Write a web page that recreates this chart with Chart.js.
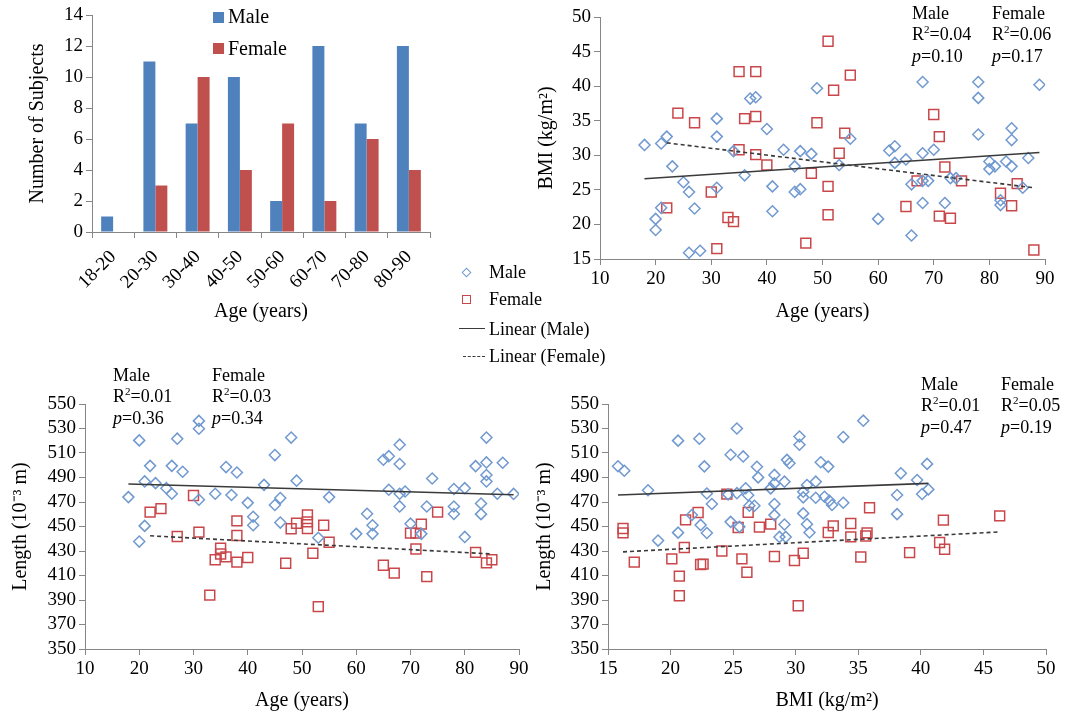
<!DOCTYPE html>
<html>
<head>
<meta charset="utf-8">
<script src="https://cdn.jsdelivr.net/npm/chart.js@4.4.1/dist/chart.umd.min.js"></script>
<style>
  body { margin: 0; background: #fff; }
  #page { position: relative; width: 1067px; height: 717px; overflow: hidden;
          font-family: "Liberation Serif", "Times New Roman", serif; color: #000; }
  canvas { position: absolute; }
  .txt { position: absolute; white-space: nowrap; }
  .note { position: absolute; font-size: 18px; line-height: 21.5px; white-space: nowrap; }
  .note sup { font-size: 11px; line-height: 0; vertical-align: 7px; }
  .swatch { position: absolute; }
</style>
</head>
<body>
<div id="page">
  <canvas id="countChart" style="left:0;top:0;width:450px;height:328px"></canvas>
  <canvas id="bmiAgeChart" style="left:450px;top:0;width:617px;height:328px"></canvas>
  <canvas id="lenAgeChart" style="left:0;top:360px;width:540px;height:357px"></canvas>
  <canvas id="lenBmiChart" style="left:520px;top:360px;width:547px;height:357px"></canvas>
  <div id="overlay"></div>
</div>
<script>
// age distribution
const ageGroups = ['18-20', '20-30', '30-40', '40-50', '50-60', '60-70', '70-80', '80-90'];
const maleCounts = [1, 11, 7, 10, 2, 12, 7, 12];
const femaleCounts = [0, 3, 10, 4, 7, 2, 6, 4];
const seriesNames = ['Male', 'Female'];

// BMI vs age, [age, BMI]
const maleAgeBmi = [[18,31.5],[21,31.7],[22,32.7],[23,28.4],[21,22.4],[20,20.8],[20,19.2],[25,26.1],[26,24.7],[26,15.9],
  [27,22.3],[28,16.2],[31,35.3],[31,32.7],[31,25.3],[34,30.6],[36,27.1],[37,38.2],[38,38.4],[40,33.8],[41,25.5],[41,21.9],
  [43,30.8],[45,28.4],[45,24.7],[46,30.6],[46,25.1],[48,30.2],[49,39.7],[53,28.6],[55,32.4],[60,20.8],[62,30.7],[63,31.3],
  [63,28.9],[65,29.4],[66,25.8],[66,18.4],[68,40.6],[68,30.3],[68,26.3],[68,23.1],[69,26.3],[70,30.8],[72,23.1],[73,26.7],
  [74,26.7],[78,40.6],[78,38.3],[78,33.0],[80,29.1],[80,28.0],[81,28.4],[82,22.8],[82,23.5],[83,29.1],[84,33.9],[84,32.2],
  [84,28.4],[86,25.3],[87,29.6],[89,40.2]];
const femaleAgeBmi = [[22,22.4],[24,36.1],[27,34.7],[30,24.7],[31,16.5],[33,21.0],[34,20.4],[35,42.1],[35,30.8],[36,35.3],
  [38,42.1],[38,35.6],[38,30.1],[40,28.6],[47,17.3],[48,27.4],[49,34.7],[51,46.5],[51,25.5],[51,21.4],[52,39.4],[53,30.3],
  [54,33.2],[55,41.6],[65,22.6],[67,26.3],[70,35.9],[71,32.7],[71,21.2],[72,28.3],[73,20.9],[75,26.3],[82,24.5],[84,22.7],
  [85,25.9],[88,16.3]];
const maleAgeBmiFit = [[18,26.6],[89,30.4]];
const femaleAgeBmiFit = [[22,31.8],[88,25.3]];

// length vs age, [age, length]
const maleAgeLen = [[18,474],[20,520.3],[20,437.7],[21,486.8],[21,450.5],[22,499.5],[23,485.4],[25,481.3],[26,499.5],[26,476.7],
  [27,521.7],[28,494.7],[31,536.2],[31,529.8],[31,471.8],[34,476.7],[36,498.5],[37,475.7],[38,494.1],[40,469.3],[41,458],
  [41,451],[43,484],[45,508.3],[45,467.5],[46,473.2],[46,453.2],[48,522.6],[49,487.4],[53,440.8],[55,474],[60,444],[62,460.4],
  [63,451],[63,444],[65,504.5],[66,507.4],[66,480],[68,516.8],[68,501],[68,476.7],[68,466.4],[69,478.6],[70,452.3],[72,444],
  [73,466.3],[74,489.2],[78,480.6],[78,466.3],[78,460.2],[80,481.3],[80,441.5],[82,499.3],[83,468.8],[83,460.1],[84,522.6],
  [84,502.3],[84,492],[84,486.8],[86,476.7],[87,502],[89,476.6]];
const femaleAgeLen = [[22,461.7],[24,464.6],[27,441.8],[30,475.3],[31,445.4],[33,394],[34,422.8],[35,432.3],[35,427.5],
  [36,425.2],[38,454.6],[38,442.6],[38,420.9],[40,424.7],[47,420],[48,448.2],[49,452.7],[51,459.5],[51,453.8],[51,448.4],
  [52,428.2],[53,384.6],[54,451],[55,437.2],[65,418.4],[67,411.9],[70,444.6],[71,444.6],[71,431.6],[72,451.9],[73,409.1],
  [75,461.7],[82,428.9],[84,420.3],[85,422.8]];
const maleAgeLenFit = [[18,484.7],[89,475.9]];
const femaleAgeLenFit = [[22,442.4],[85,427.6]];

// length vs BMI, [BMI, length]
const maleBmiLen = [[15.8,499.2],[16.3,495.5],[18.2,479.6],[19.0,438.5],[20.6,520.1],[20.6,445],[21.7,459.4],[22.3,521.6],
  [22.7,499.1],[22.4,451.3],[22.9,476.9],[22.9,444.7],[23.3,468.4],[24.6,476.2],[24.8,508.6],[24.8,453.8],[25.3,530],
  [25.3,477.2],[25.5,449.7],[25.8,507.2],[26.0,481.2],[26.2,475.5],[26.3,466.9],[26.7,466.9],[27.0,490.1],[26.9,498.8],
  [28.0,481.1],[28.3,492.1],[28.3,485.2],[28.3,468.3],[28.3,459.3],[28.7,441.5],[29.1,486.6],[29.1,451.6],[29.2,441.5],
  [29.3,504.4],[29.5,501.6],[30.3,523.5],[30.3,516.7],[30.6,478.4],[30.6,473.8],[30.6,460.7],[30.9,483.9],[30.9,451.9],
  [31.1,445.1],[31.6,473.5],[31.6,486.6],[32.0,502.5],[32.3,474.3],[32.6,498.9],[32.7,471],[32.9,467.5],[33.8,469.4],
  [33.8,523],[35.4,536.4],[38.1,475.7],[38.1,460.1],[38.4,493.4],[39.7,488],[40.1,476.5],[40.5,501.1],[40.6,480.3]];
const femaleBmiLen = [[16.2,448.4],[16.2,444.8],[17.1,420.9],[20.1,423.6],[20.7,409.5],[20.7,393.5],[21.1,432.8],[21.2,455.4],
  [22.2,461.4],[22.4,419],[22.6,419.3],[24.1,430],[24.5,476.4],[25.4,449.2],[25.7,423.6],[26.1,412.7],[26.2,461.5],
  [27.1,449.5],[28.0,451.9],[28.3,425.5],[29.9,422.2],[30.2,385.3],[30.6,428.2],[32.6,445.1],[33.0,450.5],[34.4,452.5],
  [34.4,441.5],[35.2,425.1],[35.6,442.3],[35.7,444.8],[35.9,465.3],[39.1,428.7],[41.5,436.9],[41.8,455.2],[41.9,431.4],
  [46.3,458.7]];
const maleBmiLenFit = [[15.8,475.7],[40.6,485.2]];
const femaleBmiLenFit = [[16.2,429.3],[46.3,445.6]];

// regression summary per panel: [R², p] for male then female
const bmiAgeStats = [['0.04', '0.10'], ['0.06', '0.17']];
const lenAgeStats = [['0.01', '0.36'], ['0.03', '0.34']];
const lenBmiStats = [['0.01', '0.47'], ['0.05', '0.19']];
const trendNames = ['Linear (Male)', 'Linear (Female)'];

const serif = "'Liberation Serif', 'Times New Roman', serif";
const blue = '#4F81BD', red = '#C0504D';
const axisGrey = '#868686';

Chart.defaults.animation = false;
Chart.defaults.plugins.legend.display = false;
Chart.defaults.plugins.tooltip.enabled = false;
Chart.defaults.responsive = false;
Chart.defaults.devicePixelRatio = 1;

function sizeCanvas(id) {
  const c = document.getElementById(id);
  c.width = parseInt(c.style.width);
  c.height = parseInt(c.style.height);
  return c;
}

// axis with outward tick marks and no gridlines; afterFit pins the plot area
function axis(opts) {
  const a = {
    ticks: { color: '#000', font: { family: serif, size: 19 }, padding: opts.tickPad || 3, autoSkip: false,
             stepSize: opts.step, minRotation: opts.rot || 0, maxRotation: opts.rot || 0 },
    grid: { drawOnChartArea: false, drawTicks: true, tickLength: 6, color: axisGrey },
    border: { display: true, color: axisGrey },
    title: { display: true, text: opts.title, color: '#000', font: { family: serif, size: 20 }, padding: { top: 4, bottom: 4 } },
    afterFit: s => { if (s.isHorizontal()) s.height = opts.fit; else s.width = opts.fit; }
  };
  if (opts.min !== undefined) { a.type = 'linear'; a.min = opts.min; a.max = opts.max; }
  return a;
}

function toPoints(pairs) { return pairs.map(p => ({ x: p[0], y: p[1] })); }

const countX = axis({ title: 'Age (years)', fit: 96, rot: 45, tickPad: 8 });
countX.grid.offset = true;
const countY = axis({ title: 'Number of Subjects', fit: 70, step: 2 });
countY.min = 0;
countY.max = 14;

new Chart(sizeCanvas('countChart'), {
  type: 'bar',
  data: {
    labels: ageGroups,
    datasets: [
      { label: seriesNames[0], data: maleCounts, backgroundColor: blue, categoryPercentage: 0.567, barPercentage: 1 },
      { label: seriesNames[1], data: femaleCounts, backgroundColor: red, categoryPercentage: 0.567, barPercentage: 1 }
    ]
  },
  options: {
    layout: { padding: { left: 22, top: 15, right: 20, bottom: 0 } },
    scales: { x: countX, y: countY }
  }
});

function scatterChart(id, male, female, maleFit, femaleFit, xs, ys, pad) {
  return new Chart(sizeCanvas(id), {
    type: 'scatter',
    data: {
      datasets: [
        { label: trendNames[0], type: 'line', data: toPoints(maleFit), borderColor: '#3a3a3a', borderWidth: 1.6, pointRadius: 0 },
        { label: trendNames[1], type: 'line', data: toPoints(femaleFit), borderColor: '#3a3a3a', borderWidth: 1.6,
          borderDash: [4, 3], pointRadius: 0 },
        { label: seriesNames[0], data: toPoints(male), pointStyle: 'rectRot', radius: 5.5, borderWidth: 1.5,
          borderColor: '#7099D0', backgroundColor: 'rgba(0,0,0,0)' },
        { label: seriesNames[1], data: toPoints(female), pointStyle: 'rect', radius: 7, borderWidth: 1.5,
          borderColor: '#C9474A', backgroundColor: 'rgba(0,0,0,0)' }
      ]
    },
    options: {
      layout: { padding: pad },
      scales: { x: axis(xs), y: axis(ys) }
    }
  });
}

scatterChart('bmiAgeChart', maleAgeBmi, femaleAgeBmi, maleAgeBmiFit, femaleAgeBmiFit,
  { title: 'Age (years)', min: 10, max: 90, step: 10, fit: 69 },
  { title: 'BMI (kg/m²)', min: 15, max: 50, step: 5, fit: 69 },
  { left: 81, top: 17, right: 22, bottom: 0 });

scatterChart('lenAgeChart', maleAgeLen, femaleAgeLen, maleAgeLenFit, femaleAgeLenFit,
  { title: 'Age (years)', min: 10, max: 90, step: 10, fit: 68 },
  { title: 'Length (10⁻³ m)', min: 350, max: 550, step: 20, fit: 80 },
  { left: 5, top: 44, right: 21, bottom: 0 });

scatterChart('lenBmiChart', maleBmiLen, femaleBmiLen, maleBmiLenFit, femaleBmiLenFit,
  { title: 'BMI (kg/m²)', min: 15, max: 50, step: 5, fit: 68 },
  { title: 'Length (10⁻³ m)', min: 350, max: 550, step: 20, fit: 79 },
  { left: 9, top: 44, right: 21, bottom: 0 });

// legends and regression notes
const overlay = document.getElementById('overlay');
function put(html, cls, style) {
  const d = document.createElement('div');
  d.className = cls;
  d.style.cssText = style;
  d.innerHTML = html;
  overlay.appendChild(d);
}

// bar chart legend
put('', 'swatch', `left:213px;top:12px;width:11px;height:11px;background:${blue}`);
put(seriesNames[0], 'txt', 'left:228px;top:5px;font-size:20px;line-height:23px');
put('', 'swatch', `left:213px;top:43px;width:11px;height:11px;background:${red}`);
put(seriesNames[1], 'txt', 'left:228px;top:37px;font-size:20px;line-height:23px');

// shared scatter legend
put('', 'swatch', 'left:462.5px;top:268.5px;width:5px;height:5px;border:1.5px solid #7099D0;transform:rotate(45deg)');
put(seriesNames[0], 'txt', 'left:489px;top:262px;font-size:18px;line-height:21px');
put('', 'swatch', 'left:461.5px;top:295px;width:7px;height:7px;border:1.5px solid #C9474A');
put(seriesNames[1], 'txt', 'left:489px;top:289px;font-size:18px;line-height:21px');
put('', 'swatch', 'left:459px;top:328px;width:26px;border-top:1.6px solid #3a3a3a');
put(trendNames[0], 'txt', 'left:489px;top:319px;font-size:18px;line-height:21px');
put('', 'swatch', 'left:463px;top:356px;width:22px;border-top:1.6px dashed #3a3a3a');
put(trendNames[1], 'txt', 'left:489px;top:346px;font-size:18px;line-height:21px');

function notes(stats, xMale, xFemale, top) {
  [xMale, xFemale].forEach((x, i) => {
    put(`${seriesNames[i]}<br>R<sup>2</sup>=${stats[i][0]}<br><i>p</i>=${stats[i][1]}`, 'note', `left:${x}px;top:${top}px`);
  });
}
notes(bmiAgeStats, 912, 992, 2.5);
notes(lenAgeStats, 113, 212, 364.5);
notes(lenBmiStats, 921, 1001, 373.5);
</script>
</body>
</html>
